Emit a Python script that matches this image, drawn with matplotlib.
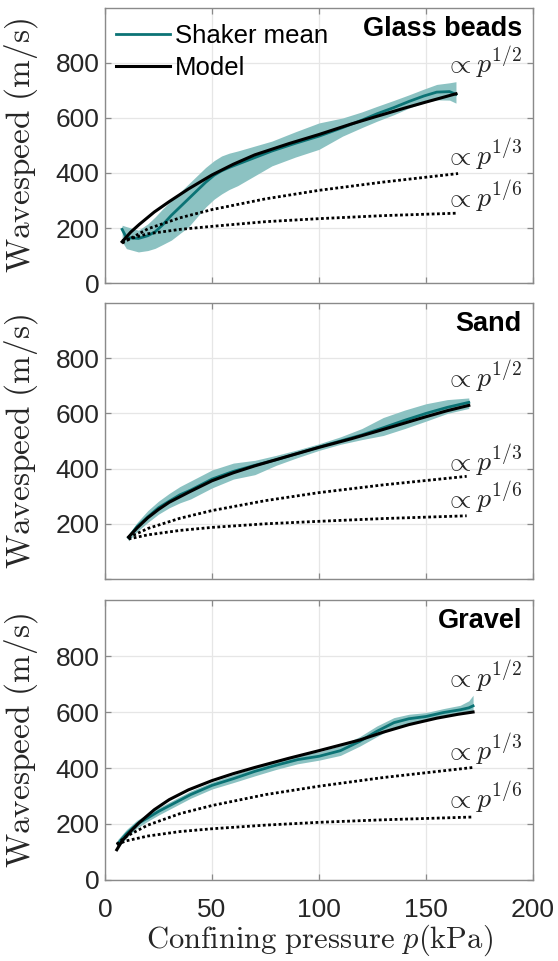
import matplotlib
matplotlib.use('Agg')
import matplotlib.pyplot as plt
import numpy as np

plt.rcParams['font.family'] = ['Liberation Sans', 'DejaVu Sans']
plt.rcParams['mathtext.fontset'] = 'cm'

# ---- Glass beads ----
glass_p = [8, 10, 15.6, 20, 23.4, 27, 31, 35, 39, 43, 47, 51, 54.5, 58, 62, 70, 78, 89, 100,
           111, 120, 127, 135, 142, 149, 155, 161, 164]
glass_mean = [195, 165, 162, 172, 186, 212, 246, 276, 306, 336, 366, 392, 408, 420, 432, 456, 480,
              508, 534, 565, 592, 615, 638, 660, 680, 694, 696, 686]
glass_lo = [150, 125, 113, 118, 126, 140, 156, 180, 204, 240, 276, 305, 324, 340, 354, 390, 426,
            458, 486, 534, 565, 588, 612, 636, 655, 666, 665, 654]
glass_hi = [210, 205, 192, 215, 240, 270, 300, 330, 360, 390, 420, 445, 462, 472, 480, 498, 516,
            550, 582, 600, 622, 642, 664, 684, 705, 722, 728, 732]
glass_model_p = [8, 12, 16, 23, 30, 39, 50, 60, 70, 86, 100, 115, 127, 140, 150, 164]
glass_model = [150, 185, 213, 258, 296, 342, 393, 432, 466, 507, 540, 578, 606, 636, 658, 688]
glass_fit_p = [8, 20, 35, 50, 75, 100, 130, 165]
glass_third = [145, 197, 237, 267, 306, 337, 367, 398]
glass_sixth = [153, 179, 195, 206, 223, 234, 245, 254]

# ---- Sand ----
sand_p = [11, 15, 20, 25, 30, 35, 40, 50, 60, 70, 80, 90, 100, 110, 120, 130, 140, 150, 160, 170]
sand_mean = [150, 190, 225, 258, 282, 305, 322, 362, 390, 412, 432, 455, 478, 500, 522, 548, 575,
             600, 622, 640]
sand_lo = [138, 172, 205, 235, 258, 276, 290, 330, 362, 378, 412, 440, 466, 488, 505, 520, 545,
           572, 600, 618]
sand_hi = [162, 205, 248, 282, 310, 335, 355, 395, 420, 430, 448, 468, 490, 515, 545, 585, 612,
           635, 650, 656]
sand_model_p = [11, 15, 20, 25, 30, 39, 50, 60, 70, 86, 100, 115, 127, 140, 150, 160, 170]
sand_model = [152, 185, 222, 252, 278, 314, 356, 385, 410, 446, 477, 508, 535, 565, 588, 610, 629]
sand_fit_p = [11, 20, 35, 50, 75, 100, 130, 169]
sand_third = [150, 183, 220, 248, 284, 313, 341, 372]
sand_sixth = [145, 160, 176, 187, 200, 209, 219, 229]

# ---- Gravel ----
gravel_p = [6, 10, 15, 20, 25, 30, 40, 50, 60, 70, 80, 90, 100, 110, 119, 127, 135, 142, 150, 158,
            166, 170, 172]
gravel_mean = [130, 165, 200, 222, 245, 265, 305, 338, 362, 388, 410, 430, 442, 462, 495, 531, 562,
               576, 584, 598, 608, 615, 622]
gravel_lo = [115, 150, 186, 210, 232, 252, 292, 325, 348, 372, 395, 415, 428, 445, 478, 512, 545,
             560, 570, 584, 594, 598, 600]
gravel_hi = [145, 180, 214, 236, 258, 278, 318, 350, 376, 402, 425, 446, 458, 480, 512, 550, 580,
             592, 598, 612, 624, 640, 660]
gravel_model_p = [5.5, 8, 12, 16, 23, 30, 39, 50, 60, 70, 86, 100, 119, 130, 142, 155, 165, 172]
gravel_model = [108, 140, 174, 205, 251, 287, 322, 355, 380, 402, 435, 462, 500, 528, 555, 578,
                592, 600]
gravel_fit_p = [5.5, 10, 20, 35, 50, 75, 100, 130, 172]
gravel_third = [128, 156, 196, 237, 266, 305, 335, 366, 402]
gravel_sixth = [127, 140, 157, 173, 183, 196, 206, 215, 225]

titles = ['Glass beads', 'Sand', 'Gravel']
label_y = [(800, 465, 313), (734, 428, 296), (727, 466, 293)]

teal = '#0b7375'
band = '#8cc2c2'

fig = plt.figure(figsize=(5.58, 9.61), dpi=100)
boxes = [(0.1882, 0.7055, 0.767, 0.2862),
         (0.1882, 0.3975, 0.767, 0.2872),
         (0.1882, 0.0843, 0.767, 0.2913)]

data = [
    (glass_p, glass_mean, glass_lo, glass_hi, glass_model_p, glass_model, glass_fit_p, glass_third, glass_sixth),
    (sand_p, sand_mean, sand_lo, sand_hi, sand_model_p, sand_model, sand_fit_p, sand_third, sand_sixth),
    (gravel_p, gravel_mean, gravel_lo, gravel_hi, gravel_model_p, gravel_model, gravel_fit_p, gravel_third, gravel_sixth),
]

for i, (box, d) in enumerate(zip(boxes, data)):
    p, mean, lo, hi, mp, mv, fp, third, sixth = d
    ax = fig.add_axes(box)
    ax.fill_between(p, lo, hi, color=band, lw=0, zorder=2)
    ax.plot(p, mean, color=teal, lw=2.0, zorder=3, label='Shaker mean')
    ax.plot(mp, mv, color='black', lw=2.2, zorder=4, label='Model')
    ax.plot(fp, third, color='black', lw=2.0, ls=(0, (1, 0.9)), zorder=4)
    ax.plot(fp, sixth, color='black', lw=2.0, ls=(0, (1, 0.9)), zorder=4)

    ax.set_xlim(0, 200)
    ax.set_ylim(0, 1000)
    ax.set_xticks([0, 50, 100, 150, 200])
    ax.set_yticks([0, 200, 400, 600, 800])
    ax.grid(True, color='#e6e6e6', lw=0.9, zorder=0)
    ax.set_axisbelow(True)
    for s in ax.spines.values():
        s.set_color('#8a8a8a')
        s.set_linewidth(1.0)
    ax.tick_params(direction='in', length=4, width=0.9, color='#8a8a8a',
                   top=True, right=True, labelsize=19, labelcolor='#262626', pad=4)
    ax.tick_params(axis='x', pad=13)
    if i < 2:
        ax.set_xticklabels([])
    if i == 1:
        ax.set_yticklabels(['', '200', '400', '600', '800'])

    ax.set_ylabel(r'$\mathrm{Wavespeed\ (m/s)}$', fontsize=24, color='#262626')
    ax.yaxis.set_label_coords(-0.152, 0.5)

    ax.text(0.974, 0.925, titles[i], transform=ax.transAxes, ha='right', va='center',
            fontsize=19.5, fontweight='bold', color='black')

    y12, y13, y16 = label_y[i]
    ax.text(195, y12, r'$\propto p^{1/2}$', ha='right', va='center', fontsize=20, color='#262626')
    ax.text(195, y13, r'$\propto p^{1/3}$', ha='right', va='center', fontsize=20, color='#262626')
    ax.text(195, y16, r'$\propto p^{1/6}$', ha='right', va='center', fontsize=20, color='#262626')

    if i == 0:
        ax.legend(loc='upper left', bbox_to_anchor=(0.005, 0.975), frameon=False, fontsize=18.5,
                  handlelength=2.1, handletextpad=0.2, labelspacing=0.3, borderpad=0.35,
                  borderaxespad=0.0)
    if i == 2:
        ax.set_xlabel(r'$\mathrm{Confining\ pressure}\ p(\mathrm{kPa})$', fontsize=22,
                      color='#262626', labelpad=0)

fig.savefig('out.png', dpi=100)
